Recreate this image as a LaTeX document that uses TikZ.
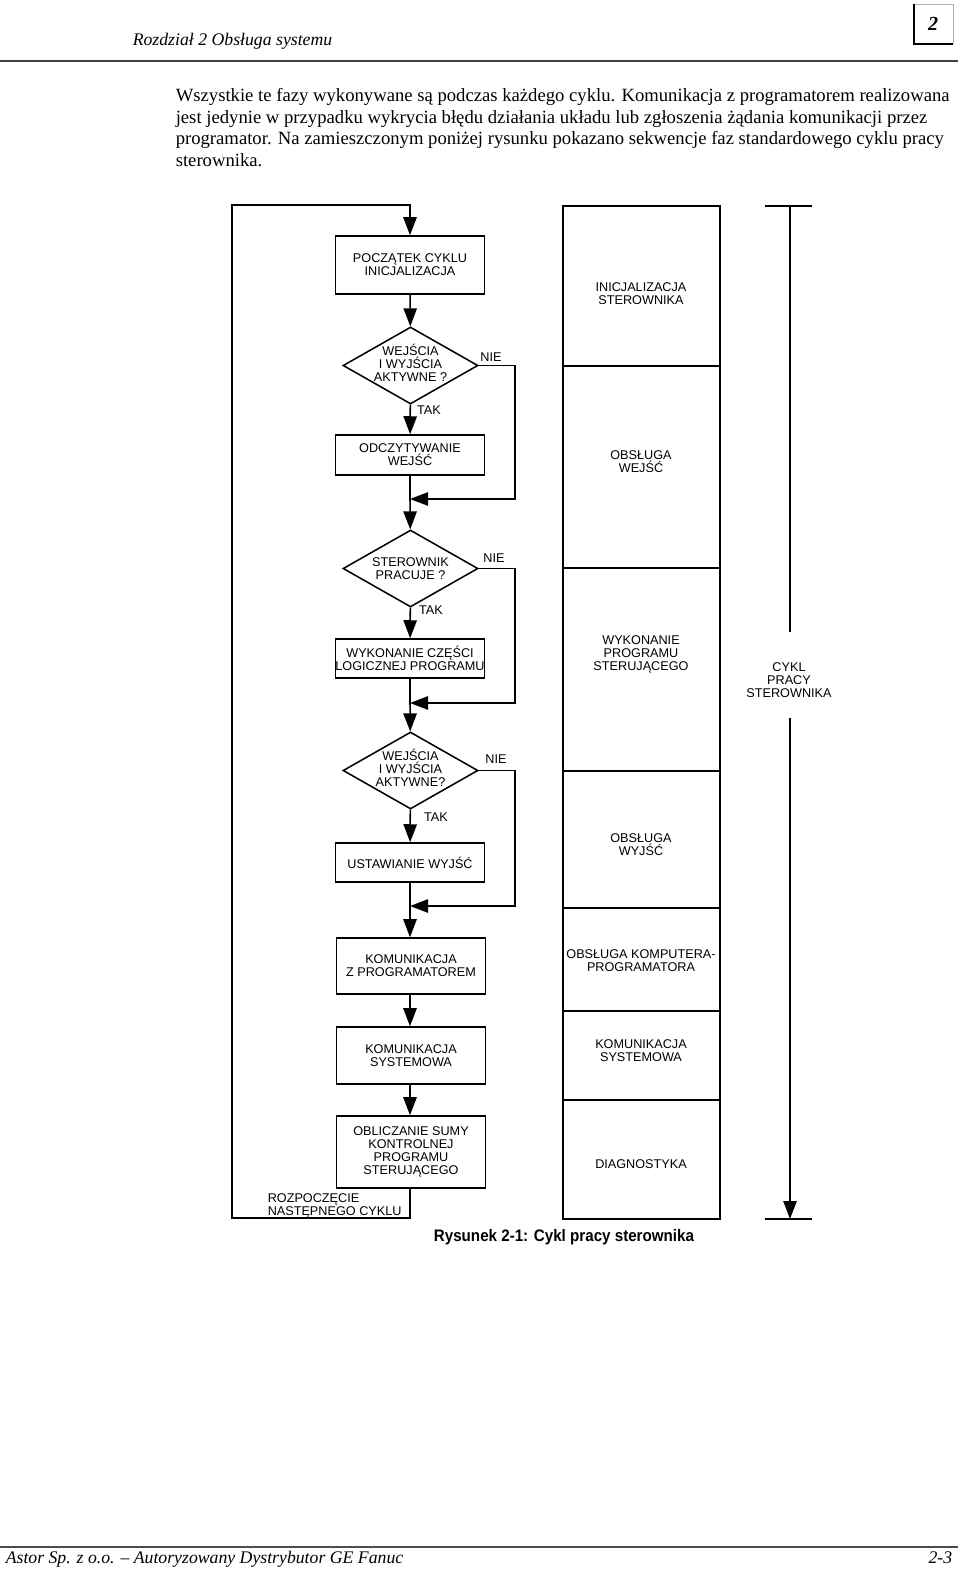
\documentclass[tikz,border=0pt]{standalone}
\usepackage{fontspec}
\setmainfont{Liberation Serif}
\setsansfont{Liberation Sans}
\usetikzlibrary{shapes.geometric,arrows.meta}
\begin{document}
\begin{tikzpicture}[x=0.75pt,y=-0.75pt,
  line width=1.15pt,
  fc/.style={font=\sffamily\fontsize{9.5}{9.75}\selectfont},
  box/.style={draw, rectangle, fc, align=center, inner sep=0pt, minimum width=111.5pt},
  dia/.style={draw, diamond, inner sep=0pt, minimum width=101.25pt, minimum height=57.75pt},
  lbl/.style={fc, align=center, inner sep=0pt},
  cell/.style={draw, rectangle, inner sep=0pt, minimum width=117.75pt},
  arr/.style={-{Triangle[length=13.5pt,width=10pt]}},
  body/.style={font=\fontsize{14}{16}\selectfont, anchor=base west, inner sep=0pt},
  ital/.style={font=\itshape\fontsize{13.3}{16}\selectfont, inner sep=0pt},
]
\useasboundingbox (0,0) rectangle (960,1572);

% ---------- header ----------
\node[ital, anchor=base west] (hdr) at (132,45) {Rozdział 2 Obsługa systemu};
\draw[line width=1.5pt, black!75] (0,61) -- (958,61);
\draw[line width=0.5pt, black!30] (914,4) -- (953,4) -- (953,44);
\draw[line width=2pt] (914,4) -- (914,44) -- (953,44);
\node[font=\bfseries\itshape\fontsize{15}{16}\selectfont, inner sep=0pt] (chap) at (933,24) {2};

% ---------- paragraph ----------
\node[body] (p1) at (175,101) {Wszystkie te fazy wykonywane są podczas każdego cyklu. Komunikacja z programatorem realizowana};
\node[body] (p2) at (175,123) {jest jedynie w przypadku wykrycia błędu działania układu lub zgłoszenia żądania komunikacji przez};
\node[body] (p3) at (175,144.5) {programator. Na zamieszczonym poniżej rysunku pokazano sekwencje faz standardowego cyklu pracy};
\node[body] (p4) at (175,166) {sterownika.};

% ---------- flowchart ----------
\node[box, minimum height=43.5pt] (b1) at (410,265) {POCZĄTEK CYKLU\\INICJALIZACJA};
\node[dia] (d1) at (410.5,365.5) {};
\node[lbl] (d1t) at (410.5,362.5) {WEJŚCIA\\I WYJŚCIA\\AKTYWNE ?};
\node[box, minimum height=30pt] (b2) at (410,455) {ODCZYTYWANIE\\WEJŚĆ};
\node[dia] (d2) at (410.5,568.5) {};
\node[lbl] (d2t) at (410.5,568.5) {STEROWNIK\\PRACUJE ?};
\node[box, minimum height=29.25pt] (b3) at (410,658.5) {WYKONANIE CZĘŚCI\\LOGICZNEJ PROGRAMU};
\node[dia] (d3) at (410.5,770.5) {};
\node[lbl] (d3t) at (410.5,768) {WEJŚCIA\\I WYJŚCIA\\AKTYWNE?};
\node[box, minimum height=29.25pt] (b4) at (410,862.5) {\raisebox{-2pt}{USTAWIANIE WYJŚĆ}};
\node[box, minimum height=42pt] (b5) at (411,966) {KOMUNIKACJA\\Z PROGRAMATOREM};
\node[box, minimum height=42.75pt] (b6) at (411,1055.5) {KOMUNIKACJA\\SYSTEMOWA};
\node[box, minimum height=54pt] (b7) at (411,1152) {OBLICZANIE SUMY\\KONTROLNEJ\\PROGRAMU\\STERUJĄCEGO};

\coordinate (m1) at (410,499);
\coordinate (m2) at (410,703);
\coordinate (m3) at (410,906);
\coordinate (r1) at (515,365.5);
\coordinate (r2) at (515,568.5);
\coordinate (r3) at (515,770.5);
\coordinate (lt) at (232,205);
\coordinate (lb) at (232,1218);

\draw[arr] (b1) -- (d1);
\draw[arr] (d1) -- (b2);
\draw (b2) -- (m1);
\draw[arr] (m1) -- (d2);
\draw[arr] (d2) -- (b3);
\draw (b3) -- (m2);
\draw[arr] (m2) -- (d3);
\draw[arr] (d3) -- (b4);
\draw (b4) -- (m3);
\draw[arr] (m3) -- (m3 |- b5.north);
\draw[arr] (b5.south -| m3) -- (b6.north -| m3);
\draw[arr] (b6.south -| m3) -- (b7.north -| m3);
\draw[arr] (b7.south -| m3) -- (lb -| m3) -- (lb) -- (lt) -- (lt -| b1.north) -- (b1.north);

\draw[arr] (d1.east) -- (r1) |- (m1);
\draw[arr] (d2.east) -- (r2) |- (m2);
\draw[arr] (d3.east) -- (r3) |- (m3);

\node[lbl] (nie1) at (491,357) {NIE};
\node[lbl] (nie2) at (494,558) {NIE};
\node[lbl] (nie3) at (496,759) {NIE};
\node[lbl] (tak1) at (429,410) {TAK};
\node[lbl] (tak2) at (431,610) {TAK};
\node[lbl] (tak3) at (436,817) {TAK};

\node[lbl, align=left, anchor=north west] (next) at (267,1193) {ROZPOCZĘCIE\\NASTĘPNEGO CYKLU};

% ---------- right column ----------
\node[cell, minimum height=120pt] (c1) at (641.5,286) {};
\node[cell, minimum height=151.5pt] (c2) at (641.5,467) {};
\node[cell, minimum height=152.25pt] (c3) at (641.5,669.5) {};
\node[cell, minimum height=102.75pt] (c4) at (641.5,839.5) {};
\node[cell, minimum height=77.25pt] (c5) at (641.5,959.5) {};
\node[cell, minimum height=66.75pt] (c6) at (641.5,1055.5) {};
\node[cell, minimum height=89.25pt] (c7) at (641.5,1159.5) {};

\node[lbl] (t1) at (641,293.5) {INICJALIZACJA\\STEROWNIKA};
\node[lbl] (t2) at (641,461.5) {OBSŁUGA\\WEJŚĆ};
\node[lbl] (t3) at (641,654) {WYKONANIE\\PROGRAMU\\STERUJĄCEGO};
\node[lbl] (t4) at (641,844.5) {OBSŁUGA\\WYJŚĆ};
\node[lbl] (t5) at (641,960.5) {OBSŁUGA KOMPUTERA-\\PROGRAMATORA};
\node[lbl] (t6) at (641,1050.5) {KOMUNIKACJA\\SYSTEMOWA};
\node[lbl] (t7) at (641,1164) {DIAGNOSTYKA};

% ---------- cycle axis ----------
\coordinate (at) at (790,206);
\coordinate (ab) at (790,1219);
\node[lbl] (cykl) at (789,680) {CYKL\\PRACY\\STEROWNIKA};
\draw (765,206) -- (812,206);
\draw (at) -- (790,632);
\draw[arr] (790,718) -- (ab);
\draw (765,1219) -- (812,1219);

% ---------- caption ----------
\node[font=\sffamily\bfseries\fontsize{12.5}{14}\selectfont, inner sep=0pt] (cap) at (564,1237) {\scalebox{0.91}[1]{Rysunek 2-1: Cykl pracy sterownika}};

% ---------- footer ----------
\draw[line width=1.2pt, black!70] (0,1547) -- (958,1547);
\node[ital, anchor=base west] (foot) at (5,1563) {Astor Sp. z o.o. -- Autoryzowany Dystrybutor GE Fanuc};
\node[ital, anchor=base east] (pg) at (953,1563) {2-3};
\end{tikzpicture}
\end{document}
